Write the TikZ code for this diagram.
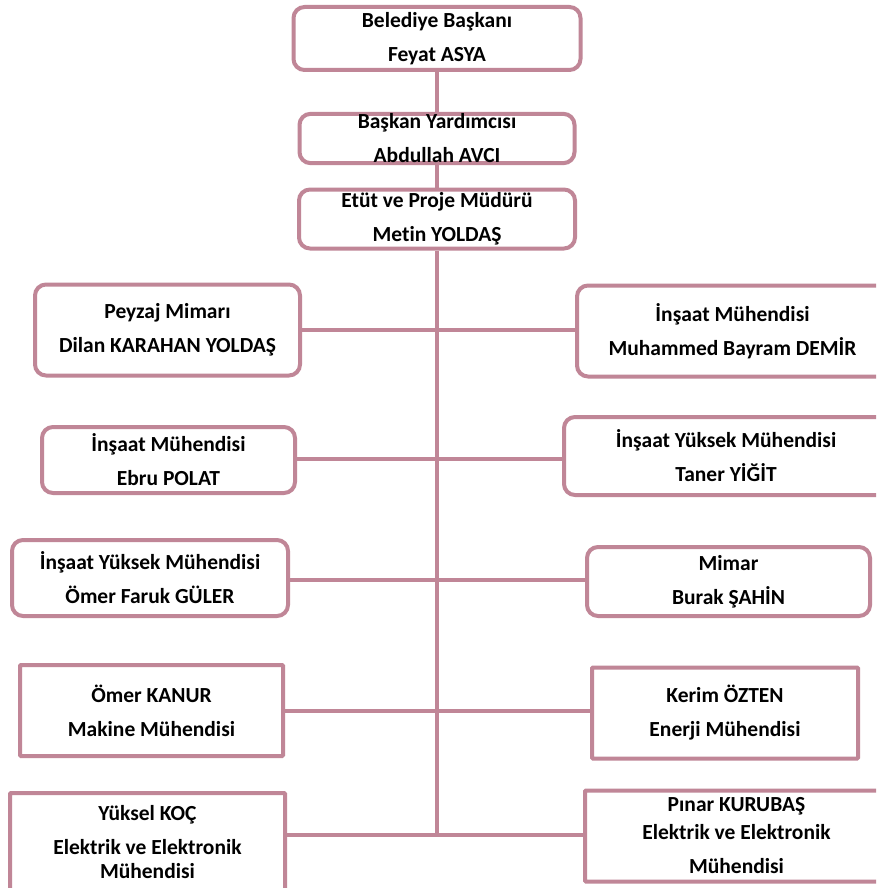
\documentclass[tikz,border=0pt]{standalone}
\usepackage{fontspec}
\setmainfont[Ligatures=NoCommon]{Carlito}
\definecolor{mauve}{RGB}{192,134,151}
\tikzset{
  x=1pt, y=-1pt,
  orgbox/.style={draw=mauve, line width=4pt, fill=white, inner sep=0pt,
    align=center, font=\fontsize{21.5}{34}\selectfont\bfseries},
  rbox/.style={orgbox, rounded corners=11pt},
  sbox/.style={orgbox, rounded corners=1pt},
  link/.style={draw=mauve, line width=4pt}
}
\begin{document}
\begin{tikzpicture}
\clip (0,0) rectangle (876,888);
\fill[white] (0,0) rectangle (876,888);

% junction point at the foot of the central trunk
\coordinate (bottom) at (437,835);

% management
\node[rbox, minimum width=287, minimum height=63] (mayor) at (437,38.5)
  {Belediye Başkanı\\Feyat ASYA};
\node[rbox, minimum width=275, minimum height=49] (deputy) at (437,138.5)
  {Başkan Yardımcısı\\Abdullah AVCI};
\node[rbox, minimum width=276, minimum height=59] (director) at (437,219)
  {Etüt ve Proje Müdürü\\Metin YOLDAŞ};

% left column
\node[rbox, minimum width=265, minimum height=91] (l1) at (167.5,330)
  {Peyzaj Mimarı\\Dilan KARAHAN YOLDAŞ};
\node[rbox, minimum width=253, minimum height=66] (l2) at (168.5,460)
  {İnşaat Mühendisi\\Ebru POLAT};
\node[rbox, minimum width=276, minimum height=76] (l3) at (150,578)
  {İnşaat Yüksek Mühendisi\\Ömer Faruk GÜLER};
\node[sbox, minimum width=263, minimum height=91] (l4) at (151.5,710.5)
  {Ömer KANUR\\Makine Mühendisi};
\node[sbox, minimum width=275, minimum height=98] (l5) at (147.5,842)
  {Yüksel KOÇ\\Elektrik ve Elektronik\\[-10pt]Mühendisi};

% right column
\node[rbox, minimum width=311, minimum height=91] (r1) at (732.5,331)
  {İnşaat Mühendisi\\Muhammed Bayram DEMİR};
\node[rbox, minimum width=324, minimum height=78] (r2) at (726,456)
  {İnşaat Yüksek Mühendisi\\Taner YİĞİT};
\node[rbox, minimum width=283, minimum height=69] (r3) at (728.5,581.5)
  {Mimar\\Burak ŞAHİN};
\node[sbox, minimum width=266, minimum height=91] (r4) at (725,713)
  {Kerim ÖZTEN\\Enerji Mühendisi};
\node[sbox, minimum width=303, minimum height=91] (r5) at (736.5,836)
  {Pınar KURUBAŞ\\[-6pt]Elektrik ve Elektronik\\Mühendisi};

% connectors: chain of command and the central trunk
\draw[link] (mayor.south) -- (deputy.north);
\draw[link] (deputy.south) -- (director.north);
\draw[link] (director.south) -- (bottom);
% branches to each staff box
\draw[link] (l1.east |- 0,330) -- (r1.west |- 0,330);
\draw[link] (l2.east |- 0,459) -- (r2.west |- 0,459);
\draw[link] (l3.east |- 0,580) -- (r3.west |- 0,580);
\draw[link] (l4.east |- 0,711) -- (r4.west |- 0,711);
\draw[link] (l5.east |- bottom) -- (r5.west |- bottom);
\end{tikzpicture}
\end{document}
